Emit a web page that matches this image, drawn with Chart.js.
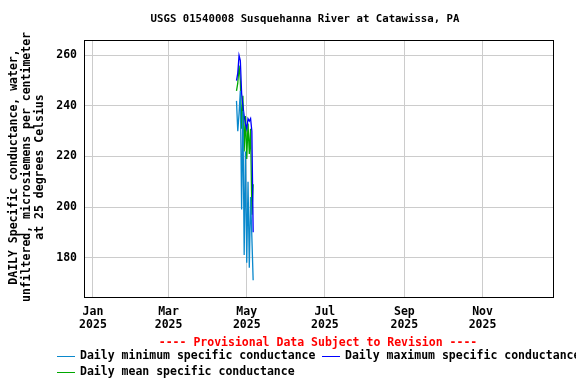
<!DOCTYPE html>
<html>
<head>
<meta charset="utf-8">
<script src="https://cdn.jsdelivr.net/npm/chart.js@4.4.1/dist/chart.umd.min.js"></script>
<style>
html,body{margin:0;padding:0;background:#fff;}
#wrap{width:576px;height:384px;position:relative;}
</style>
</head>
<body>
<div id="wrap"><canvas id="c" width="576" height="384"></canvas></div>
<script>
// ---- Data (day of year 2025, 0 = Jan 1) ----
const days = [112,113,114,115,116,117,118,119,120,121,122,123,124,125]; // Apr 23 .. May 6
const dailyMin  = [242,230,237,246,199,238,181,222,178,210,176,204,188,171];
const dailyMean = [246,249,256,250,231,244,222,236,219,233,221,231,197,209];
const dailyMax  = [250,253,260,258,245,240,236,233,231,235,234,235,230,190];

const xTickValues = [0,59,120,181,243,304];
const xTickLabels = [["Jan","2025"],["Mar","2025"],["May","2025"],["Jul","2025"],["Sep","2025"],["Nov","2025"]];
const yTickValues = [180,200,220,240,260];

const titleText = "USGS 01540008 Susquehanna River at Catawissa, PA";
const yTitleLines = ["DAILY Specific conductance, water,","unfiltered, microsiemens per centimeter","at 25 degrees Celsius"];
const provisionalText = "---- Provisional Data Subject to Revision ----";
const seriesNames = ["Daily minimum specific conductance","Daily maximum specific conductance","Daily mean specific conductance"];
const seriesColors = ["#0A88CC","#0000FF","#00A800"];

const FONT = "'DejaVu Sans Mono', monospace";

function pts(vals){ return days.map((d,i)=>({x:d,y:vals[i]})); }

const decor = {
  id:'decor',
  afterDraw(chart){
    const ctx = chart.ctx, a = chart.chartArea;
    ctx.save();
    // border
    ctx.strokeStyle = '#000'; ctx.lineWidth = 1;
    ctx.strokeRect(Math.round(a.left)+0.5, Math.round(a.top)+0.5, Math.round(a.right-a.left), Math.round(a.bottom-a.top));
    // title
    ctx.fillStyle = '#000';
    ctx.font = "bold 10.7px " + FONT;
    ctx.textAlign = 'center'; ctx.textBaseline = 'middle';
    ctx.fillText(titleText, 305, 19);
    // y title
    ctx.font = "bold 11.5px " + FONT;
    ctx.translate(0, 167);
    ctx.rotate(-Math.PI/2);
    const xs = [14, 27, 40];
    yTitleLines.forEach((t,i)=>{ ctx.fillText(t, 0, xs[i]); });
    ctx.setTransform(1,0,0,1,0,0);
    // provisional
    ctx.fillStyle = '#FF0000';
    ctx.font = "bold 11.5px " + FONT;
    ctx.textAlign = 'center';
    ctx.fillText(provisionalText, 318, 343);
    // legend
    const items = [
      {x:57, y:356, i:0},
      {x:322, y:356, i:1},
      {x:57, y:372, i:2}
    ];
    ctx.textAlign = 'left';
    items.forEach(it=>{
      ctx.strokeStyle = seriesColors[it.i]; ctx.lineWidth = 1;
      ctx.beginPath(); ctx.moveTo(it.x, it.y+0.5); ctx.lineTo(it.x+18, it.y+0.5); ctx.stroke();
      ctx.fillStyle = '#000';
      ctx.fillText(seriesNames[it.i], it.x+23, it.y);
    });
    ctx.restore();
  }
};

new Chart(document.getElementById('c'), {
  type:'line',
  data:{
    datasets:[
      {label:seriesNames[0], data:pts(dailyMin), borderColor:seriesColors[0], borderWidth:1.3, pointRadius:0, tension:0, fill:false},
      {label:seriesNames[1], data:pts(dailyMax), borderColor:seriesColors[1], borderWidth:1.3, pointRadius:0, tension:0, fill:false},
      {label:seriesNames[2], data:pts(dailyMean), borderColor:seriesColors[2], borderWidth:1.3, pointRadius:0, tension:0, fill:false}
    ]
  },
  options:{
    responsive:false,
    animation:false,
    devicePixelRatio:1,
    layout:{padding:{left:50, top:40, right:23, bottom:0}},
    plugins:{legend:{display:false}, title:{display:false}, tooltip:{enabled:false}},
    scales:{
      x:{
        type:'linear', min:-7, max:359,
        afterBuildTicks(s){ s.ticks = xTickValues.map(v=>({value:v})); },
        afterFit(s){ s.height = 87; },
        grid:{color:'#cccccc', drawTicks:false, lineWidth:1},
        border:{display:false},
        ticks:{
          autoSkip:false, maxRotation:0, padding:8, color:'#000',
          font:{family:FONT, size:11.5, weight:'bold', lineHeight:1.15},
          callback(v){ const i = xTickValues.indexOf(v); return i>=0 ? xTickLabels[i] : ''; }
        }
      },
      y:{
        type:'linear', min:164.4, max:266.1,
        afterBuildTicks(s){ s.ticks = yTickValues.map(v=>({value:v})); },
        afterFit(s){ s.width = 34; },
        grid:{color:'#cccccc', drawTicks:false, lineWidth:1},
        border:{display:false},
        ticks:{
          padding:7, color:'#000',
          font:{family:FONT, size:11.5, weight:'bold'},
          callback(v){ return String(v); }
        }
      }
    }
  },
  plugins:[decor]
});
</script>
</body>
</html>
